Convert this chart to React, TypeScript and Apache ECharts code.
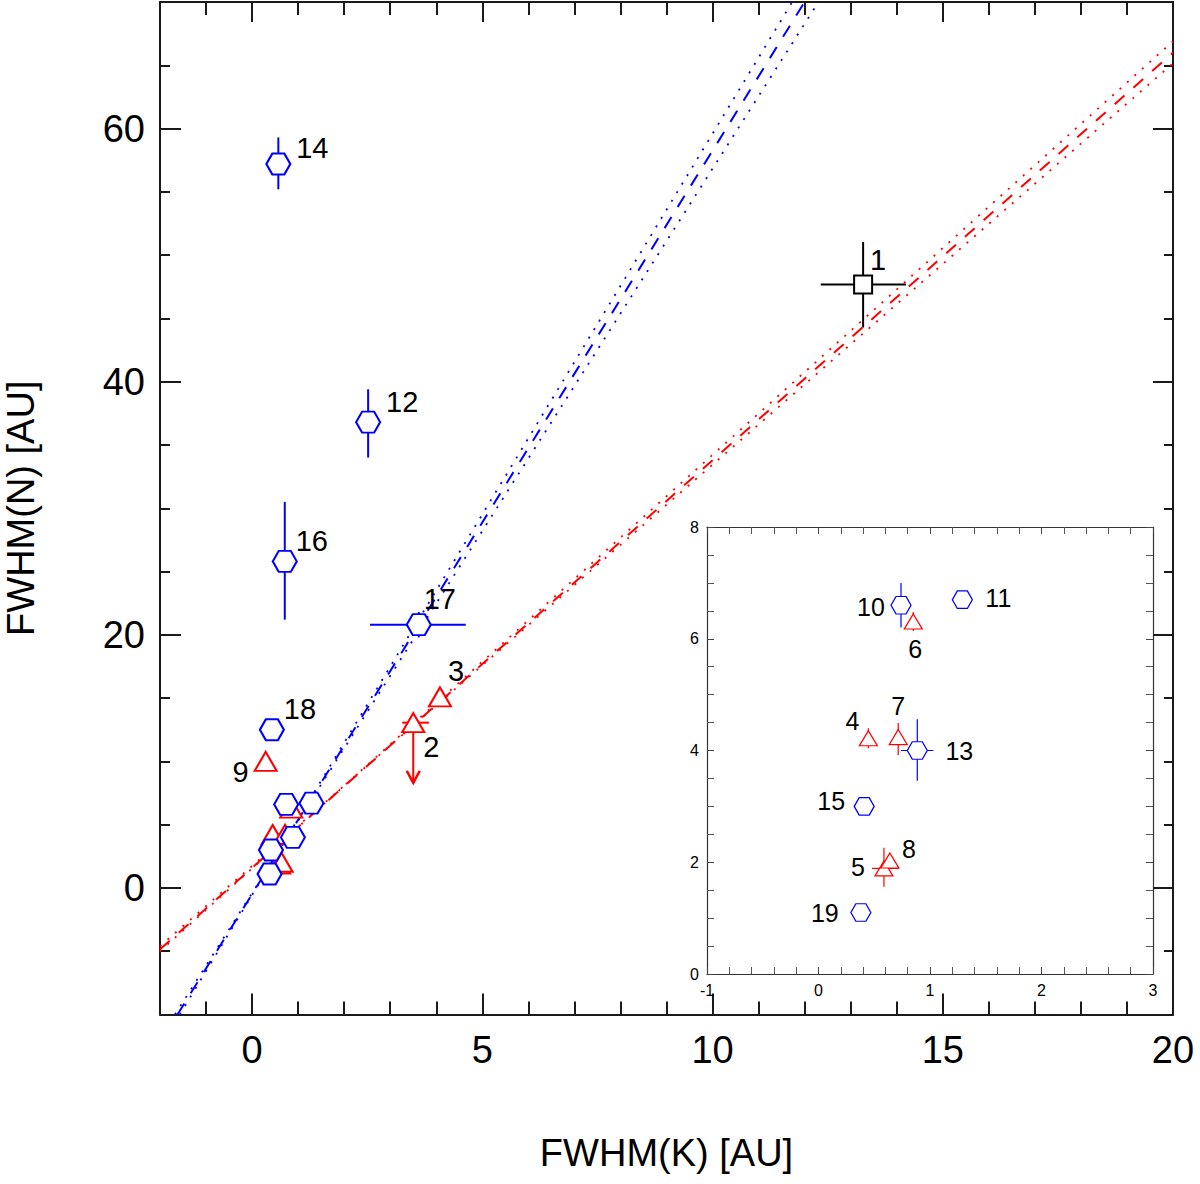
import React, { useEffect, useRef } from 'react';
import * as echarts from 'echarts';

// ---- data ----
const ids = ['1', '2', '3', '4', '5', '6', '7', '8', '9', '10', '11', '12', '13', '14', '15', '16', '17', '18', '19'];
const kinds = ['square', 'triangle', 'triangle', 'triangle', 'triangle', 'triangle', 'triangle', 'triangle', 'triangle',
  'hexagon', 'hexagon', 'hexagon', 'hexagon', 'hexagon', 'hexagon', 'hexagon', 'hexagon', 'hexagon', 'hexagon'];
const xs = [13.27, 3.5, 4.08, 0.447, 0.587, 0.85, 0.715, 0.64, 0.295, 0.74, 1.29, 2.52, 0.886, 0.57, 0.41, 0.71, 3.62, 0.43, 0.38];
const ys = [47.68, 13.06, 15.1, 4.22, 1.89, 6.31, 4.24, 2.03, 10.0, 6.6, 6.7, 36.8, 4.0, 57.2, 3.0, 25.8, 20.8, 12.5, 1.1];
const xLo = [12.35, 3.26, null, null, 0.48, null, null, null, null, null, null, null, 0.74, null, null, null, 2.56, null, null];
const xHi = [14.2, 3.84, null, null, 0.72, null, null, null, null, null, null, null, 1.03, null, null, null, 4.64, null, null];
const yLo = [44.28, null, null, 4.04, 1.56, 6.14, 3.92, null, null, 6.2, null, 34.0, 3.46, 55.2, null, 21.2, 19.8, null, null];
const yHi = [51.04, null, null, 4.4, 2.26, 6.48, 4.49, null, null, 7.0, null, 39.4, 4.56, 59.3, null, 30.5, 21.8, null, null];
const upperLimitIds = ['2'];
const upperLimitTo = [8.3];

const mainLabelIds = ['1', '2', '3', '9', '12', '14', '16', '17', '18'];
const insetLabelIds = ['4', '5', '6', '7', '8', '10', '11', '13', '15', '19'];

// fitted relations (end points)
const blueFitX = [-1.62, 12.0];
const blueFitY = [-10, 70];
const blueBandAX = [-1.57, 11.73];
const blueBandBX = [-1.675, 12.3];
const redFitX = [-2, 20];
const redFitY = [-4.85, 66.0];
const redBandAY = [-5.0, 66.9];
const redBandBY = [-4.6, 65.15];

const mainX = { min: -2, max: 20 };
const mainY = { min: -10, max: 70 };
const insetX = { min: -1, max: 3, interval: 1 };
const insetY = { min: 0, max: 8, interval: 2 };

// ---- layout / style ----
const FONT = 'Liberation Sans, Arial, Helvetica, sans-serif';
const kindList = ['square', 'triangle', 'hexagon'];
const kindColor: Record<string, string> = { square: '#000000', triangle: '#ff0000', hexagon: '#0000ff' };
const HEX = 'path://M0,8.66L5,0L15,0L20,8.66L15,17.32L5,17.32Z';
const mainSymbol: Record<string, any> = {
  square: { symbol: 'rect', size: 18 },
  triangle: { symbol: 'triangle', size: [22, 19] },
  hexagon: { symbol: HEX, size: [24, 21] },
};
const insetSymbol: Record<string, any> = {
  square: { symbol: 'rect', size: 14 },
  triangle: { symbol: 'triangle', size: [18, 15] },
  hexagon: { symbol: HEX, size: [20, 17.5] },
};
const mainLabelOffset: Record<string, number[]> = {
  '14': [34, -16], '1': [15, -24], '12': [34, -20], '16': [27, -20], '17': [21, -26],
  '3': [16, -26], '2': [18, 24], '18': [28, -21], '9': [-25, 11],
};
const insetLabelOffset: Record<string, number[]> = {
  '10': [-30, 2], '11': [36, -2], '6': [2, 28], '4': [-16, -17], '7': [0, -31],
  '13': [42, 0], '15': [-33, -5], '8': [19, -12], '5': [-26, -1], '19': [-36, 0],
};

function inRange(i: number, rx: any, ry: any) {
  return xs[i] >= rx.min && xs[i] <= rx.max && ys[i] >= ry.min && ys[i] <= ry.max;
}

function errData(rx: any, ry: any) {
  const out: number[][] = [];
  ids.forEach((id, i) => {
    if (!inRange(i, rx, ry)) return;
    const li = upperLimitIds.indexOf(id);
    out.push([
      xs[i], ys[i],
      xLo[i] ?? xs[i], xHi[i] ?? xs[i],
      yLo[i] ?? ys[i], yHi[i] ?? ys[i],
      kindList.indexOf(kinds[i]),
      li >= 0 ? upperLimitTo[li] : ys[i],
    ]);
  });
  return out;
}

function makeErrRender(lw: number) {
  return (params: any, api: any) => {
    const x = api.value(0), y = api.value(1);
    const xl = api.value(2), xh = api.value(3), yl = api.value(4), yh = api.value(5);
    const color = kindColor[kindList[api.value(6)]];
    const lim = api.value(7);
    const children: any[] = [];
    const seg = (a: number[], b: number[]) =>
      children.push({ type: 'line', shape: { x1: a[0], y1: a[1], x2: b[0], y2: b[1] }, style: { stroke: color, lineWidth: lw } });
    if (xl !== xh) seg(api.coord([xl, y]), api.coord([xh, y]));
    if (yl !== yh) seg(api.coord([x, yl]), api.coord([x, yh]));
    if (lim < y) {
      const p = api.coord([x, y]);
      const q = api.coord([x, lim]);
      seg(p, q);
      children.push({
        type: 'polyline',
        shape: { points: [[q[0] - 6.5, q[1] - 12], [q[0], q[1]], [q[0] + 6.5, q[1] - 12]] },
        style: { stroke: color, fill: 'none', lineWidth: lw + 0.5 },
      });
    }
    return { type: 'group', children };
  };
}

function scatterSeries(kind: string, rx: any, ry: any, xi: number, yi: number, inset: boolean) {
  const sym = inset ? insetSymbol[kind] : mainSymbol[kind];
  const labelIds = inset ? insetLabelIds : mainLabelIds;
  const offs = inset ? insetLabelOffset : mainLabelOffset;
  const data: any[] = [];
  ids.forEach((id, i) => {
    if (kinds[i] !== kind || !inRange(i, rx, ry)) return;
    const show = labelIds.indexOf(id) >= 0;
    data.push({ name: id, value: [xs[i], ys[i]], label: { show, offset: offs[id] || [0, 0] } });
  });
  return {
    type: 'scatter', xAxisIndex: xi, yAxisIndex: yi, silent: true, z: 4,
    symbol: sym.symbol, symbolSize: sym.size,
    itemStyle: { color: '#ffffff', borderColor: kindColor[kind], borderWidth: inset ? 1.2 : 2, opacity: 1 },
    label: {
      show: false, position: 'inside', formatter: '{b}', color: '#000',
      fontSize: inset ? 25 : 29, fontFamily: FONT,
    },
    data,
  };
}

function lineSeries(xv: number[], yv: number[], color: string, type: any, width: number) {
  return {
    type: 'line', xAxisIndex: 0, yAxisIndex: 0, silent: true, z: 2,
    showSymbol: false, symbol: 'none', clip: true,
    lineStyle: { color, width, type },
    data: xv.map((x, i) => [x, yv[i]]),
  };
}

const AX = '#1a1a1a';

function mainXAxis(position: string, labels: boolean, len: number, minor: boolean): any {
  return {
    type: 'value', gridIndex: 0, position, min: mainX.min, max: mainX.max,
    ...(minor ? { interval: 1, min: -2 } : {}),
    splitLine: { show: false },
    axisLine: { show: !minor, onZero: false, lineStyle: { color: AX, width: 2 } },
    axisTick: { show: true, inside: true, length: len, lineStyle: { color: AX, width: 2 } },
    axisLabel: labels
      ? { show: true, showMinLabel: false, margin: 16, fontSize: 38, color: '#000', fontFamily: FONT }
      : { show: false },
  };
}
function mainYAxis(position: string, labels: boolean, len: number, minor: boolean): any {
  return {
    type: 'value', gridIndex: 0, position, min: mainY.min, max: mainY.max,
    ...(minor ? { interval: 5 } : {}),
    splitLine: { show: false },
    axisLine: { show: !minor, onZero: false, lineStyle: { color: AX, width: 2 } },
    axisTick: { show: true, inside: true, length: len, lineStyle: { color: AX, width: 2 } },
    axisLabel: labels
      ? { show: true, showMinLabel: false, showMaxLabel: false, margin: 15, fontSize: 38, color: '#000', fontFamily: FONT }
      : { show: false },
  };
}
function insetAxis(range: any, position: string, labels: boolean, split: number): any {
  return {
    type: 'value', gridIndex: 1, position, min: range.min, max: range.max, interval: range.interval,
    splitLine: { show: false },
    axisLine: { show: true, onZero: false, lineStyle: { color: '#333', width: 1.2 } },
    axisTick: { show: true, inside: true, length: 7, lineStyle: { color: '#444', width: 1 } },
    minorTick: { show: true, splitNumber: split, length: 7, lineStyle: { color: '#555', width: 1 } },
    axisLabel: labels ? { show: true, margin: 8, fontSize: 16, color: '#000', fontFamily: FONT } : { show: false },
  };
}

export default function App() {
  const ref = useRef<HTMLDivElement>(null);
  useEffect(() => {
    if (!ref.current) return;
    const chart = echarts.init(ref.current, undefined, { renderer: 'svg' });
    const xAxes = [
      { ...mainXAxis('bottom', true, 21, false), name: 'FWHM(K) [AU]', nameLocation: 'middle', nameGap: 119,
        nameTextStyle: { fontSize: 38, color: '#000', fontFamily: FONT } },
      mainXAxis('top', false, 20, false),
      mainXAxis('bottom', false, 13, true),
      mainXAxis('top', false, 13, true),
      insetAxis(insetX, 'bottom', true, 5),
      insetAxis(insetX, 'top', false, 5),
    ];
    const yAxes = [
      { ...mainYAxis('left', true, 21, false), name: 'FWHM(N) [AU]', nameLocation: 'middle', nameGap: 120,
        nameTextStyle: { fontSize: 38, color: '#000', fontFamily: FONT } },
      mainYAxis('right', false, 20, false),
      mainYAxis('left', false, 10, true),
      mainYAxis('right', false, 9, true),
      insetAxis(insetY, 'left', true, 4),
      insetAxis(insetY, 'right', false, 4),
    ];
    const dotted = [2, 8];
    const dashed = [13, 12];
    const series: any[] = [
      lineSeries(blueBandAX, blueFitY, '#0000ff', dotted, 1.8),
      lineSeries(blueBandBX, blueFitY, '#0000ff', dotted, 1.8),
      lineSeries(blueFitX, blueFitY, '#0000ff', dashed, 2),
      lineSeries(redFitX, redBandAY, '#ff0000', dotted, 1.8),
      lineSeries(redFitX, redBandBY, '#ff0000', dotted, 1.8),
      lineSeries(redFitX, redFitY, '#ff0000', dashed, 2),
      {
        type: 'custom', xAxisIndex: 0, yAxisIndex: 0, silent: true, z: 3,
        renderItem: makeErrRender(2), data: errData(mainX, mainY),
      },
      ...kindList.map((k) => scatterSeries(k, mainX, mainY, 0, 0, false)),
      {
        type: 'custom', xAxisIndex: 4, yAxisIndex: 4, silent: true, z: 3,
        renderItem: makeErrRender(1.2), data: errData(insetX, insetY),
      },
      ...kindList.map((k) => scatterSeries(k, insetX, insetY, 4, 4, true)),
    ];
    chart.setOption({
      animation: false,
      backgroundColor: '#ffffff',
      grid: [
        { left: 160, top: 2, width: 1013, height: 1012.5, containLabel: false, outerBoundsMode: 'none' },
        { left: 707, top: 527, width: 446, height: 447, show: true, backgroundColor: '#ffffff', borderWidth: 0,
          containLabel: false, outerBoundsMode: 'none' },
      ],
      xAxis: xAxes,
      yAxis: yAxes,
      series,
    });
    return () => chart.dispose();
  }, []);
  return (
    <div
      ref={ref}
      style={{ position: 'absolute', left: 0, top: 0, width: 1200, height: 1184, background: '#fff' }}
    />
  );
}
